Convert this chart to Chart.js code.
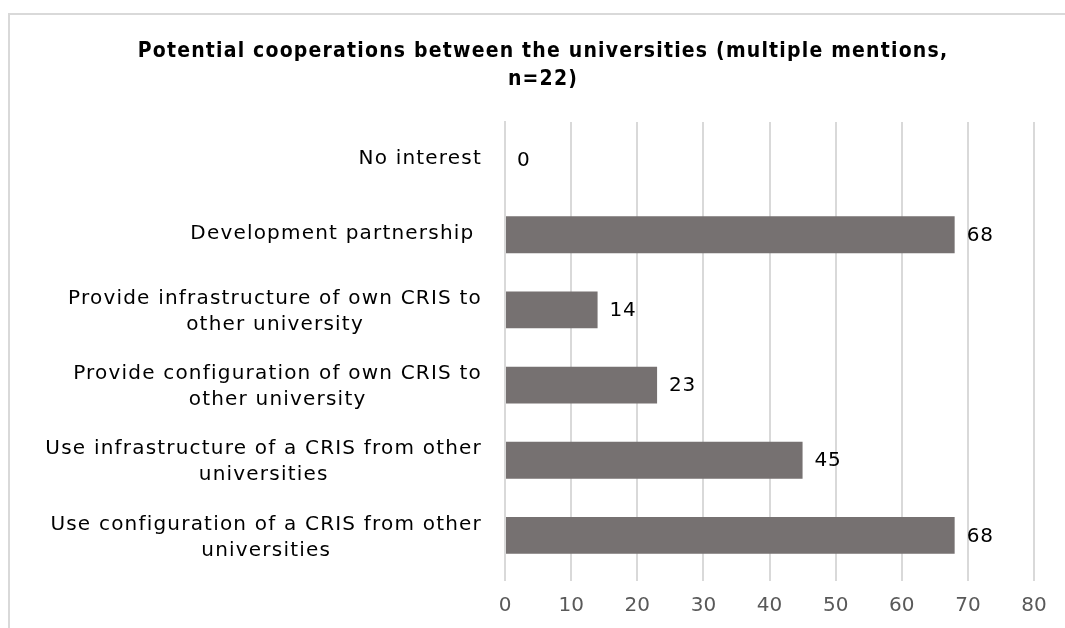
<!DOCTYPE html>
<html>
<head>
<meta charset="utf-8">
<script src="https://cdn.jsdelivr.net/npm/chart.js@4.4.0/dist/chart.umd.min.js"></script>
<style>
  html, body { margin: 0; padding: 0; background: #fff; overflow: hidden; }
  #frame {
    position: absolute; left: 8px; top: 13px; width: 1100px; height: 700px;
    border-top: 2px solid #d9d9d9; border-left: 2px solid #d9d9d9;
  }
  #wrap { position: absolute; left: 0; top: 0; width: 1065px; height: 628px; }
</style>
</head>
<body>
<div id="frame"></div>
<div id="wrap"><canvas id="coopChart"></canvas></div>
<script>
const chartTitle = ["Potential cooperations between the universities (multiple mentions,", "n=22)"];
const categories = [
  ["No interest"],
  ["Development partnership "],
  ["Provide infrastructure of own CRIS to", "other university"],
  ["Provide configuration of own CRIS to", "other university"],
  ["Use infrastructure of a CRIS from other", "universities"],
  ["Use configuration of a CRIS from other", "universities"]
];
const values = [0, 68, 14, 23, 45, 68];
const xTicks = [0, 10, 20, 30, 40, 50, 60, 70, 80];

const FONT = "'DejaVu Sans', Verdana, sans-serif";

// title drawn by hand so the letter spacing can follow the original
const titlePlugin = {
  id: "titleText",
  afterDraw(chart) {
    const ctx = chart.ctx;
    ctx.save();
    ctx.font = "bold 21px 'DejaVu Sans Condensed', 'DejaVu Sans', sans-serif";
    ctx.letterSpacing = "1.2px";
    ctx.fillStyle = "#000";
    ctx.textAlign = "center";
    ctx.textBaseline = "middle";
    chartTitle.forEach((l, i) => ctx.fillText(l, 543, 52 + i * 28));
    ctx.restore();
  }
};

// category labels: block right-aligned to the axis, lines centred inside the block
const yLabels = {
  id: "yLabels",
  afterDraw(chart) {
    const ctx = chart.ctx;
    const y = chart.scales.y;
    ctx.save();
    ctx.font = "20px " + FONT;
    ctx.letterSpacing = "1.2px";
    ctx.fillStyle = "#000";
    ctx.textBaseline = "middle";
    ctx.textAlign = "center";
    const lh = 26;
    categories.forEach((lines, i) => {
      const w = Math.max(...lines.map(l => ctx.measureText(l).width));
      const cx = 482 - w / 2;
      const cy = y.getPixelForValue(i) + (lines.length > 1 ? 2 : -1);
      const top = cy - (lines.length - 1) * lh / 2;
      lines.forEach((l, j) => ctx.fillText(l, cx, top + j * lh));
    });
    ctx.restore();
  }
};

// value labels at the end of each bar
const valueLabels = {
  id: "valueLabels",
  afterDatasetsDraw(chart) {
    const ctx = chart.ctx;
    const meta = chart.getDatasetMeta(0);
    ctx.save();
    ctx.font = "20px " + FONT;
    ctx.letterSpacing = "0.8px";
    ctx.fillStyle = "#000";
    ctx.textBaseline = "middle";
    ctx.textAlign = "left";
    meta.data.forEach((bar, i) => {
      ctx.fillText(values[i], bar.x + 12, bar.y + 1);
    });
    ctx.restore();
  }
};

new Chart(document.getElementById("coopChart"), {
  type: "bar",
  data: {
    labels: categories,
    datasets: [{
      data: values,
      backgroundColor: "#767171",
      borderWidth: 0,
      barPercentage: 0.49,
      categoryPercentage: 1.0
    }]
  },
  options: {
    indexAxis: "y",
    responsive: true,
    maintainAspectRatio: false,
    animation: false,
    layout: { padding: { left: 20, right: 31, top: 122, bottom: -3 } },
    plugins: {
      legend: { display: false },
      tooltip: { enabled: false },
      title: { display: false }
    },
    scales: {
      x: {
        min: 0,
        max: 80,
        afterBuildTicks(scale) { scale.ticks = xTicks.map(v => ({ value: v })); },
        grid: { color: "#d9d9d9", lineWidth: 2, drawTicks: true, tickLength: 8 },
        border: { display: false },
        ticks: { color: "#595959", font: { family: FONT, size: 20 }, padding: 13, maxRotation: 0 }
      },
      y: {
        grid: { display: false },
        border: { display: true, color: "#d9d9d9", width: 2 },
        ticks: { display: false },
        afterFit(scale) { scale.width = 485; }
      }
    }
  },
  plugins: [titlePlugin, yLabels, valueLabels]
});
</script>
</body>
</html>
